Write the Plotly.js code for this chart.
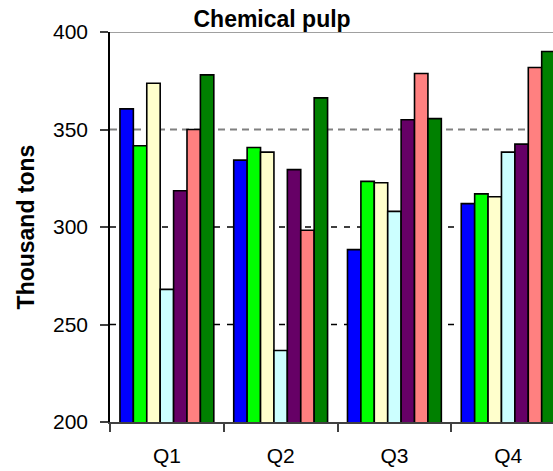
<!DOCTYPE html>
<html>
<head>
<meta charset="utf-8">
<script src="https://cdn.plot.ly/plotly-3.0.1.min.js"></script>
<style>html,body{margin:0;padding:0;background:#fff;}#chart{width:553px;height:471px;}</style>
</head>
<body>
<div id="chart"></div>
<script>
const categories = ["Q1", "Q2", "Q3", "Q4"];
const seriesNames = ["Series 1", "Series 2", "Series 3", "Series 4", "Series 5", "Series 6", "Series 7"];
const seriesColors = ["#0000FF", "#00FF00", "#FFFFCC", "#CCFFFF", "#660066", "#FF8080", "#008000"];
const s1 = [360.6, 334.3, 288.4, 312.0];
const s2 = [341.7, 340.8, 323.4, 317.0];
const s3 = [373.7, 338.4, 322.7, 315.5];
const s4 = [268.0, 236.7, 308.0, 338.4];
const s5 = [318.6, 329.4, 355.0, 342.5];
const s6 = [350.0, 298.3, 378.7, 381.8];
const s7 = [378.0, 366.2, 355.6, 390.0];
const seriesValues = [s1, s2, s3, s4, s5, s6, s7];
const yTicks = [200, 250, 300, 350, 400];
const titleText = "Chemical pulp";
const yTitleText = "Thousand tons";

const traces = seriesValues.map((vals, i) => ({
  type: "bar",
  name: seriesNames[i],
  x: categories,
  y: vals,
  marker: {color: seriesColors[i], line: {color: "#000000", width: 1.6}},
  hoverinfo: "x+y+name"
}));

const gridStyles = {
  250: {color: "#000000", width: 1.3, dash: "6px,7px"},
  300: {color: "#000000", width: 1.3, dash: "6px,7px"},
  350: {color: "#808080", width: 2, dash: "7px,5px"},
  400: {color: "#808080", width: 1.5, dash: "solid"}
};
const shapes = yTicks.filter(v => gridStyles[v]).map(v => ({
  type: "line", xref: "paper", x0: 0, x1: 1, yref: "y", y0: v, y1: v,
  layer: "below", line: gridStyles[v]
}));

const layout = {
  width: 553, height: 471,
  margin: {l: 109.5, r: 0, t: 31.5, b: 49.3, pad: 0},
  paper_bgcolor: "#ffffff", plot_bgcolor: "#ffffff",
  font: {family: "Liberation Sans, Arial, sans-serif", color: "#000000"},
  showlegend: false,
  barmode: "group", bargap: 0.175, bargroupgap: 0,
  title: {text: "<b>" + titleText + "</b>", font: {size: 23, color: "#000000"},
          x: 0.492, xanchor: "center", xref: "container", y: 0.96, yanchor: "middle", yref: "container"},
  xaxis: {
    type: "category", range: [-0.5, 3.394],
    showline: true, linecolor: "#404040", linewidth: 1.5,
    ticks: "outside", tickson: "boundaries", ticklen: 8, tickcolor: "#404040", tickwidth: 1.5,
    ticklabelstandoff: 14,
    showgrid: false, zeroline: false,
    tickfont: {size: 21, color: "#000000"}
  },
  yaxis: {
    range: [200, 400], tickvals: yTicks, ticktext: yTicks.map(String),
    showline: true, linecolor: "#000000", linewidth: 1.5,
    ticks: "outside", ticklen: 8, tickcolor: "#404040", tickwidth: 1.5,
    ticklabelstandoff: 8,
    showgrid: false, zeroline: false,
    tickfont: {size: 21, color: "#000000"},
    title: {text: "<b>" + yTitleText + "</b>", font: {size: 23, color: "#000000"}, standoff: 12}
  },
  shapes: shapes
};

Plotly.newPlot("chart", traces, layout, {displayModeBar: false, staticPlot: false});
</script>
</body>
</html>
